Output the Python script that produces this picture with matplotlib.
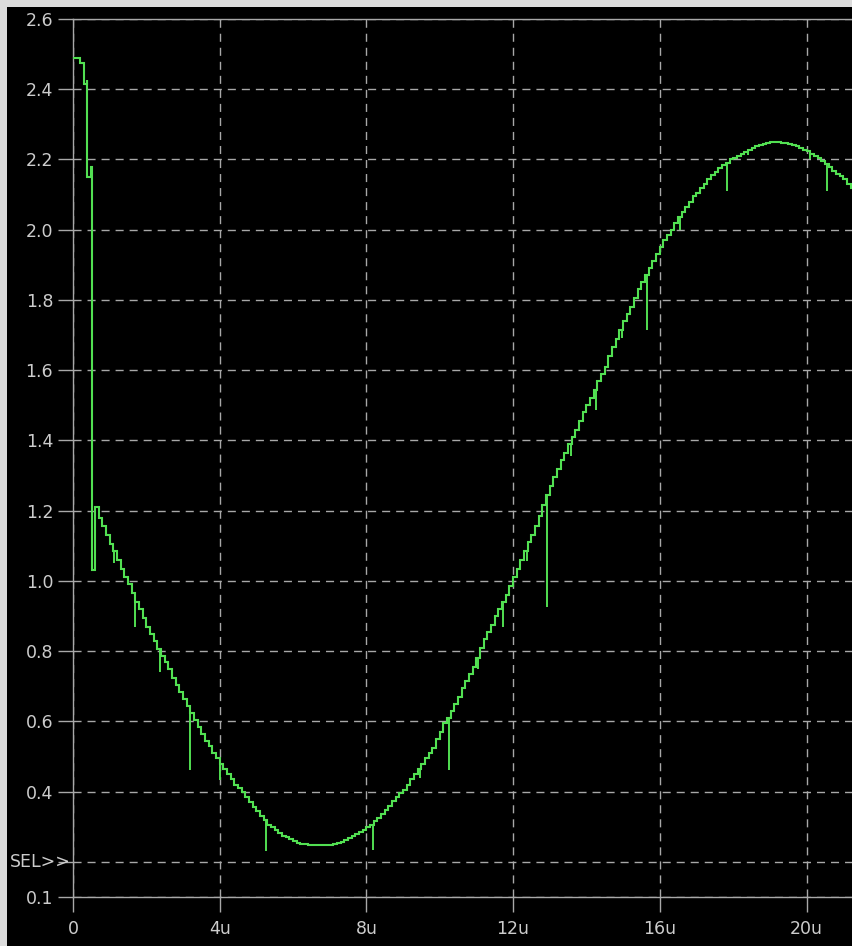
import matplotlib
matplotlib.use("Agg")
import matplotlib.pyplot as plt
import numpy as np
from matplotlib.patches import Rectangle

# --- waveform data (time in us, voltage in V)
# start-up transient, explicit step times
t_head = [0.0, 0.19, 0.30, 0.38, 0.39, 0.48, 0.51, 0.60]
v_head = [2.49, 2.475, 2.415, 2.425, 2.15, 2.18, 1.03, 1.21]

# sampled staircase after the transient, one step every 100 ns from 0.7u
t_step0 = 0.7
t_stepdt = 0.1
v_steps = [
    1.18, 1.155, 1.13,
    1.105, 1.085, 1.06, 1.035, 1.01, 0.99, 0.965, 0.94, 0.92, 0.895,
    0.87, 0.85, 0.83, 0.805, 0.785, 0.77, 0.75, 0.725, 0.705, 0.685,
    0.665, 0.645, 0.625, 0.605, 0.585, 0.565, 0.545, 0.53, 0.51, 0.495,
    0.48, 0.465, 0.45, 0.435, 0.42, 0.41, 0.40, 0.385, 0.37, 0.355,
    0.345, 0.33, 0.32, 0.305, 0.30, 0.29, 0.283, 0.275, 0.27, 0.265,
    0.26, 0.255, 0.252, 0.25, 0.247, 0.247, 0.247, 0.247, 0.247, 0.247,
    0.247, 0.25, 0.255, 0.258, 0.262, 0.268, 0.273, 0.278, 0.285, 0.29,
    0.298, 0.305, 0.315, 0.326, 0.337, 0.348, 0.36, 0.372, 0.384, 0.395,
    0.405, 0.42, 0.435, 0.45, 0.465, 0.48, 0.497, 0.51, 0.525, 0.55,
    0.57, 0.595, 0.61, 0.63, 0.65, 0.67, 0.695, 0.715, 0.735, 0.755,
    0.78, 0.81, 0.835, 0.855, 0.875, 0.90, 0.92, 0.94, 0.96, 0.985,
    1.01, 1.035, 1.06, 1.085, 1.11, 1.13, 1.155, 1.185, 1.215, 1.245,
    1.27, 1.295, 1.32, 1.345, 1.365, 1.39, 1.41, 1.43, 1.455, 1.48,
    1.50, 1.52, 1.545, 1.57, 1.59, 1.61, 1.64, 1.665, 1.69, 1.715,
    1.74, 1.76, 1.78, 1.805, 1.83, 1.85, 1.87, 1.89, 1.91, 1.93,
    1.95, 1.97, 1.985, 2.0, 2.02, 2.035, 2.05, 2.065, 2.08, 2.095,
    2.105, 2.12, 2.13, 2.145, 2.155, 2.165, 2.175, 2.185, 2.19, 2.20,
    2.205, 2.21, 2.217, 2.222, 2.228, 2.233, 2.237, 2.241, 2.245, 2.247,
    2.249, 2.25, 2.25, 2.248, 2.246, 2.244, 2.241, 2.238, 2.233, 2.228,
    2.224, 2.217, 2.21, 2.203, 2.195, 2.187, 2.178, 2.168, 2.16, 2.152,
    2.145, 2.13, 2.12, 2.11,
]

# switching glitches: time and lowest voltage reached
glitch_t = [1.11, 1.70, 2.38, 3.18, 4.0, 5.26, 8.17, 9.46, 10.26, 11.05, 11.73,
            12.39, 12.93, 13.57, 14.26, 14.96, 15.66, 16.55, 17.84, 18.4, 20.1, 20.56]
glitch_v = [1.05, 0.87, 0.742, 0.462, 0.434, 0.23, 0.235, 0.439, 0.462, 0.749, 0.869,
            1.056, 0.926, 1.357, 1.487, 1.692, 1.715, 1.998, 2.111, 2.213, 2.20, 2.111]

y_ticks = [0.1, 0.2, 0.4, 0.6, 0.8, 1.0, 1.2, 1.4, 1.6, 1.8, 2.0, 2.2, 2.4, 2.6]
y_labels = ["0.1", "", "0.4", "0.6", "0.8", "1.0", "1.2", "1.4", "1.6", "1.8",
            "2.0", "2.2", "2.4", "2.6"]
x_ticks = [0, 4, 8, 12, 16, 20]
x_labels = ["0", "4u", "8u", "12u", "16u", "20u"]

t_all = np.concatenate([t_head, t_step0 + t_stepdt * np.arange(len(v_steps))])
v_all = np.concatenate([v_head, v_steps])

gi = np.searchsorted(t_all, glitch_t, side="right") - 1
glitch_top = v_all[gi]

# --- figure: black scope screen with a light grey window frame top/left
W, H = 852, 946
fig = plt.figure(figsize=(W / 100, H / 100), dpi=100, facecolor="black")
fig.patches.append(Rectangle((0, 0), 7 / W, 1, transform=fig.transFigure,
                             facecolor="#dcdcdc", edgecolor="none", zorder=-10))
fig.patches.append(Rectangle((0, 1 - 7 / H), 1, 7 / H, transform=fig.transFigure,
                             facecolor="#dcdcdc", edgecolor="none", zorder=-10))

ax = fig.add_axes([73 / W, (H - 897) / H, 779 / W, 878 / H])
ax.set_facecolor("black")
ax.set_xlim(0, 21.24)
ax.set_ylim(0.1, 2.6)

grid_c = "#a8a8a8"
text_c = "#cccccc"
for s in ["left", "top", "bottom"]:
    ax.spines[s].set_color(grid_c)
    ax.spines[s].set_linewidth(1.0)
ax.spines["right"].set_visible(False)

ax.set_xticks(x_ticks)
ax.set_xticklabels(x_labels)
ax.set_yticks(y_ticks)
ax.set_yticklabels(y_labels)
ax.tick_params(axis="both", direction="out", length=10.8, width=1.0,
               color=grid_c, labelcolor=text_c, labelsize=12.5)
ax.tick_params(axis="y", pad=3.5)
ax.tick_params(axis="x", pad=6)
ax.grid(True, color=grid_c, linewidth=1.0, linestyle=(0, (5.8, 4.3)))
ax.set_axisbelow(True)

ax.plot(t_all, v_all, drawstyle="steps-post", color="#52e052", linewidth=1.5,
        solid_joinstyle="miter", zorder=3)
ax.vlines(glitch_t, glitch_v, glitch_top, color="#52e052", linewidth=1.4, zorder=3)

fig.text(71 / W, (H - 862) / H, "SEL>>", color=text_c, fontsize=12.5,
         ha="right", va="center")

fig.savefig("out.png", dpi=100, facecolor=fig.get_facecolor())
